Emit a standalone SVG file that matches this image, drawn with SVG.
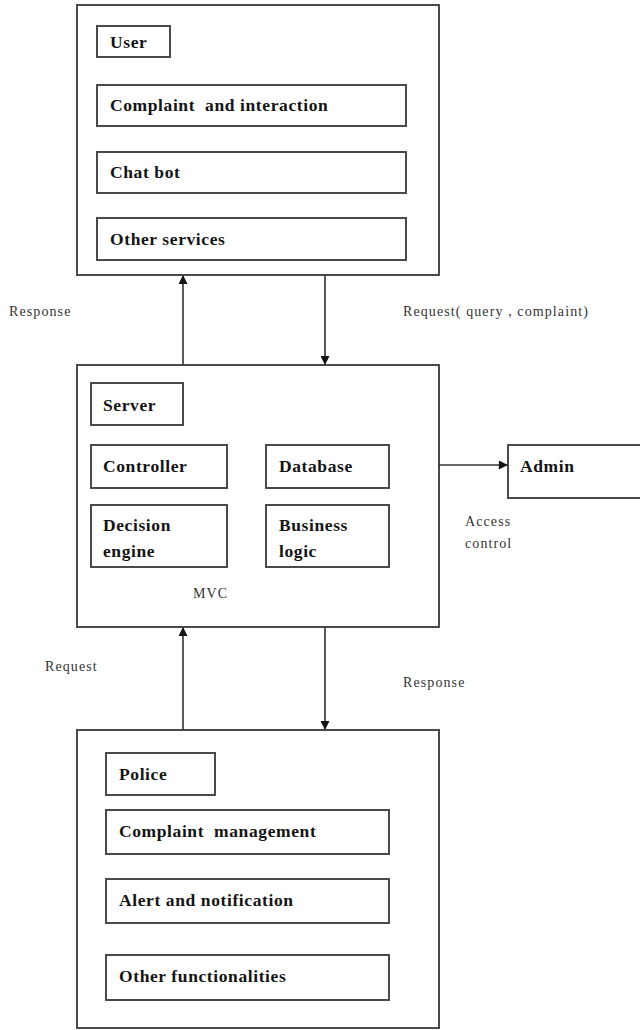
<svg xmlns="http://www.w3.org/2000/svg" width="640" height="1030" viewBox="0 0 640 1030">
  <style>
    .frame { fill: #ffffff; stroke: #4a4a4a; stroke-width: 2; }
    .item { fill: #ffffff; stroke: #4a4a4a; stroke-width: 2; }
    .title { font-family: "Liberation Serif", "Times New Roman", serif; font-weight: bold; font-size: 17.5px; letter-spacing: 0.6px; fill: #141414; }
    .label { font-family: "Liberation Serif", "Times New Roman", serif; font-size: 14px; letter-spacing: 1.1px; fill: #333333; }
    .wire { fill: none; stroke: #333333; stroke-width: 1.6; }
  </style>
  <defs>
    <marker id="arrow" viewBox="0 0 10 10" refX="9" refY="5" markerWidth="10" markerHeight="9" markerUnits="userSpaceOnUse" orient="auto">
      <path d="M0,0 L10,5 L0,10 Z" fill="#141414"/>
    </marker>
  </defs>
  <rect width="640" height="1030" fill="#ffffff"/>

  <!-- User side -->
  <g id="user">
    <rect class="frame" x="77" y="5" width="362" height="270"/>
    <rect class="item" x="97" y="26" width="73" height="31"/>
    <text class="title" x="110" y="48">User</text>
    <rect class="item" x="97" y="85" width="309" height="41"/>
    <text class="title" x="110" y="111" xml:space="preserve">Complaint  and interaction</text>
    <rect class="item" x="97" y="152" width="309" height="41"/>
    <text class="title" x="110" y="178">Chat bot</text>
    <rect class="item" x="97" y="218" width="309" height="42"/>
    <text class="title" x="110" y="245">Other services</text>
  </g>

  <!-- Server side -->
  <g id="server">
    <rect class="frame" x="77" y="365" width="362" height="262"/>
    <rect class="item" x="91" y="383" width="92" height="42"/>
    <text class="title" x="103" y="411">Server</text>
    <rect class="item" x="91" y="445" width="136" height="43"/>
    <text class="title" x="103" y="472">Controller</text>
    <rect class="item" x="266" y="445" width="123" height="43"/>
    <text class="title" x="279" y="472">Database</text>
    <rect class="item" x="91" y="505" width="136" height="62"/>
    <text class="title" x="103" y="531">Decision</text>
    <text class="title" x="103" y="557">engine</text>
    <rect class="item" x="266" y="505" width="123" height="62"/>
    <text class="title" x="279" y="531">Business</text>
    <text class="title" x="279" y="557">logic</text>
    <text class="label" x="193" y="598">MVC</text>
  </g>

  <!-- Admin -->
  <g id="admin">
    <rect class="item" x="508" y="445" width="140" height="53"/>
    <text class="title" x="520" y="472">Admin</text>
  </g>

  <!-- Police side -->
  <g id="police">
    <rect class="frame" x="77" y="730" width="362" height="298"/>
    <rect class="item" x="106" y="753" width="109" height="42"/>
    <text class="title" x="119" y="780">Police</text>
    <rect class="item" x="106" y="810" width="283" height="44"/>
    <text class="title" x="119" y="837" xml:space="preserve">Complaint  management</text>
    <rect class="item" x="106" y="879" width="283" height="44"/>
    <text class="title" x="119" y="906">Alert and notification</text>
    <rect class="item" x="106" y="955" width="283" height="45"/>
    <text class="title" x="119" y="982">Other functionalities</text>
  </g>

  <!-- Connectors -->
  <g id="connectors">
    <line class="wire" x1="183" y1="365" x2="183" y2="276" marker-end="url(#arrow)"/>
    <line class="wire" x1="325" y1="275" x2="325" y2="364" marker-end="url(#arrow)"/>
    <line class="wire" x1="439" y1="465" x2="507" y2="465" marker-end="url(#arrow)"/>
    <line class="wire" x1="183" y1="730" x2="183" y2="628" marker-end="url(#arrow)"/>
    <line class="wire" x1="325" y1="627" x2="325" y2="729" marker-end="url(#arrow)"/>
    <text class="label" x="9" y="316">Response</text>
    <text class="label" x="403" y="316">Request( query , complaint)</text>
    <text class="label" x="465" y="526">Access</text>
    <text class="label" x="465" y="548">control</text>
    <text class="label" x="45" y="671">Request</text>
    <text class="label" x="403" y="687">Response</text>
  </g>
</svg>
